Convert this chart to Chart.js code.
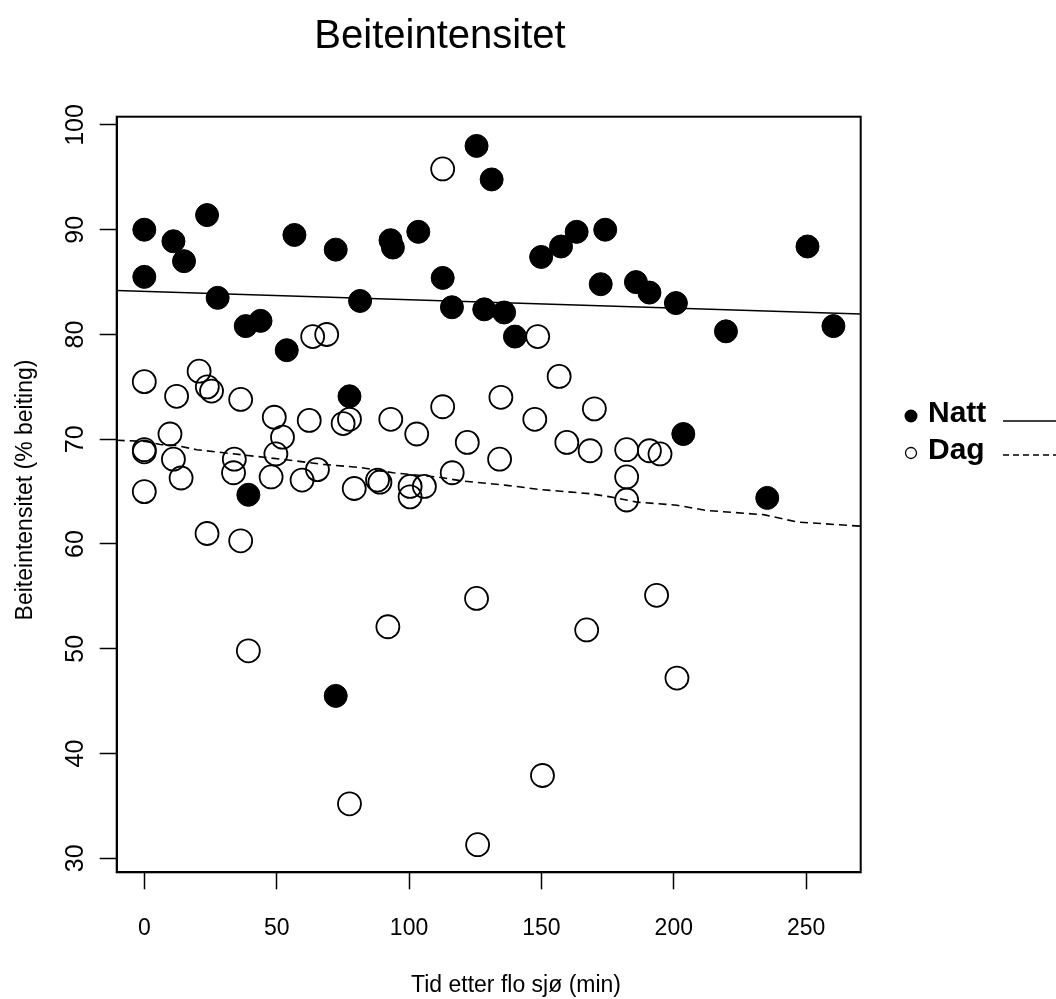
<!DOCTYPE html>
<html>
<head>
<meta charset="utf-8">
<script src="https://cdn.jsdelivr.net/npm/chart.js@4.4.1/dist/chart.umd.min.js"></script>
<style>
  html, body { margin: 0; padding: 0; background: #fff; }
</style>
</head>
<body>
<canvas id="chart" width="1056" height="999"></canvas>
<script>
// Natt (filled points)
const nattX = [0, 0, 11.0, 15.0, 23.7, 27.7, 38.3, 43.9, 53.8, 56.7, 72.3, 81.5, 93.0, 93.9, 103.5, 112.7, 116.2, 125.5, 128.4,
    131.2, 135.9, 140.0, 149.9, 157.4, 163.3, 172.4, 174.1, 185.7, 190.8, 200.8, 219.7, 250.5, 260.3, 77.5, 39.3, 203.6, 235.3, 72.3];
const nattY = [90.0, 85.5, 88.9, 87.0, 91.4, 83.5, 80.8, 81.3, 78.5, 89.5, 88.1, 83.2, 89.0, 88.3, 89.8, 85.4, 82.6, 98.0, 82.4,
    94.8, 82.1, 79.8, 87.4, 88.4, 89.8, 84.8, 90.0, 85.0, 84.0, 83.0, 80.3, 88.4, 80.8, 74.1, 64.7, 70.5, 64.4, 45.5];

// Dag (open points)
const dagX = [0, 20.7, 23.8, 25.4, 12.2, 36.4, 49.1, 62.3, 77.5, 75.1, 52.2, 9.7, 0, 0, 11.0, 34.0, 49.7, 33.7, 13.9, 47.9,
    59.6, 65.4, 79.3, 0, 23.7, 36.4, 63.6, 68.9, 112.7, 148.6, 93.1, 102.9, 112.7, 122.0, 134.7, 134.2, 147.5, 156.7, 170.0,
    159.6, 168.4, 88.1, 89.0, 100.4, 100.4, 105.8, 116.3, 125.5, 182.2, 190.8, 194.8, 182.2, 182.2, 193.5, 39.3, 77.5, 92.0,
    167.1, 150.4, 125.9, 201.2];
const dagY = [75.5, 76.5, 75.0, 74.6, 74.1, 73.8, 72.1, 71.8, 71.9, 71.5, 70.2, 70.5, 69.0, 68.8, 68.1, 68.1, 68.6, 66.8, 66.3, 66.4,
    66.1, 67.1, 65.3, 65.0, 61.0, 60.3, 79.8, 80.0, 95.8, 79.8, 71.9, 70.5, 73.1, 69.7, 74.0, 68.1, 71.9, 76.0, 72.9,
    69.7, 68.9, 66.1, 65.9, 65.5, 64.5, 65.5, 66.8, 54.8, 69.0, 68.9, 68.6, 66.4, 64.2, 55.1, 49.8, 35.2, 52.1,
    51.8, 37.9, 31.3, 47.2];

// fitted lines
const nattLineX = [-10.43, 270.6];
const nattLineY = [84.2, 81.96];
const dagLineX = [-10.43, 0, 6.0, 12.2, 19.8, 37.4, 55.1, 67.6, 81.5, 94.0, 110.5, 120.6, 136.9, 149.6, 168.4, 176.0,
    186.0, 201.2, 212.4, 233.9, 246.6, 270.6];
const dagLineY = [69.9, 69.8, 69.5, 69.4, 69.0, 68.5, 68.0, 67.6, 67.3, 66.8, 66.4, 66.0, 65.6, 65.2, 64.8, 64.5,
    64.0, 63.7, 63.2, 62.8, 62.1, 61.7];

const xTicks = [0, 50, 100, 150, 200, 250];
const yTicks = [30, 40, 50, 60, 70, 80, 90, 100];

const FONT = "'Liberation Sans', Arial, sans-serif";

function toPoints(xs, ys) {
    return xs.map((x, i) => ({ x: x, y: ys[i] }));
}

const framePlugin = {
    id: 'frame',
    afterDraw(chart) {
        const ctx = chart.ctx;
        const a = chart.chartArea;
        ctx.save();
        ctx.strokeStyle = '#000';
        ctx.lineWidth = 2;
        ctx.strokeRect(a.left, a.top, a.right - a.left, a.bottom - a.top);

        ctx.fillStyle = '#000';
        ctx.textAlign = 'center';
        ctx.textBaseline = 'middle';

        // main title
        ctx.font = '40px ' + FONT;
        ctx.fillText('Beiteintensitet', 440, 37);

        // axis titles
        ctx.font = '23px ' + FONT;
        ctx.fillText('Tid etter flo sjø (min)', 516, 986);
        ctx.save();
        ctx.translate(26, 490);
        ctx.rotate(-Math.PI / 2);
        ctx.fillText('Beiteintensitet (% beiting)', 0, 0);
        ctx.restore();

        // legend
        ctx.textAlign = 'left';
        ctx.font = 'bold 30px ' + FONT;
        ctx.beginPath();
        ctx.arc(911, 416, 6.5, 0, Math.PI * 2);
        ctx.fill();
        ctx.fillText('Natt', 928, 414);
        ctx.lineWidth = 1.5;
        ctx.beginPath();
        ctx.moveTo(1003, 421);
        ctx.lineTo(1056, 421);
        ctx.stroke();

        ctx.lineWidth = 1.3;
        ctx.beginPath();
        ctx.arc(911, 453, 5.5, 0, Math.PI * 2);
        ctx.stroke();
        ctx.fillText('Dag', 928, 451);
        ctx.lineWidth = 1.5;
        ctx.setLineDash([6, 4]);
        ctx.beginPath();
        ctx.moveTo(1003, 455);
        ctx.lineTo(1056, 455);
        ctx.stroke();
        ctx.restore();
    }
};

new Chart(document.getElementById('chart'), {
    type: 'scatter',
    data: {
        datasets: [
            {
                label: 'Natt',
                data: toPoints(nattX, nattY),
                pointRadius: 11.5,
                pointHoverRadius: 11.5,
                pointBackgroundColor: '#000',
                pointBorderColor: '#000',
                pointBorderWidth: 1
            },
            {
                label: 'Dag',
                data: toPoints(dagX, dagY),
                pointRadius: 11.5,
                pointHoverRadius: 11.5,
                pointBackgroundColor: 'rgba(0,0,0,0)',
                pointBorderColor: '#000',
                pointBorderWidth: 1.8
            },
            {
                label: 'Natt fit',
                data: toPoints(nattLineX, nattLineY),
                showLine: true,
                pointRadius: 0,
                borderColor: '#000',
                borderWidth: 1.6
            },
            {
                label: 'Dag fit',
                data: toPoints(dagLineX, dagLineY),
                showLine: true,
                pointRadius: 0,
                borderColor: '#000',
                borderWidth: 1.6,
                borderDash: [8, 5]
            }
        ]
    },
    options: {
        responsive: false,
        animation: false,
        layout: { padding: { top: 116.7, right: 195.3, left: 0, bottom: 0 } },
        plugins: {
            legend: { display: false },
            tooltip: { enabled: false },
            title: { display: false }
        },
        scales: {
            x: {
                type: 'linear',
                min: -10.43,
                max: 270.6,
                afterBuildTicks: s => { s.ticks = xTicks.map(v => ({ value: v })); },
                afterFit: s => { s.height = 126.7; },
                border: { display: true, color: '#000', width: 2 },
                grid: { drawOnChartArea: false, drawTicks: true, tickLength: 17, tickColor: '#000', tickWidth: 1.5 },
                ticks: { color: '#000', font: { family: FONT, size: 23 }, padding: 26, maxRotation: 0, autoSkip: false }
            },
            y: {
                type: 'linear',
                min: 28.66,
                max: 100.79,
                afterBuildTicks: s => { s.ticks = yTicks.map(v => ({ value: v })); },
                afterFit: s => { s.width = 116.7; },
                border: { display: true, color: '#000', width: 2 },
                grid: { drawOnChartArea: false, drawTicks: true, tickLength: 17, tickColor: '#000', tickWidth: 1.5 },
                ticks: { color: '#000', font: { family: FONT, size: 25 }, padding: 3, minRotation: 90, maxRotation: 90, crossAlign: 'center', autoSkip: false }
            }
        }
    },
    plugins: [framePlugin]
});
</script>
</body>
</html>
